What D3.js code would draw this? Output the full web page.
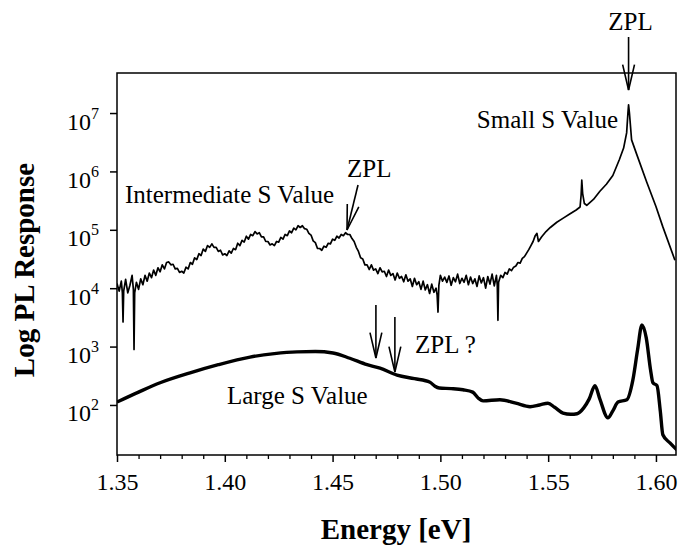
<!DOCTYPE html>
<html>
<head>
<meta charset="utf-8">
<script src="https://cdn.jsdelivr.net/npm/d3@7"></script>
<style>
  html, body { margin: 0; padding: 0; background: #fff; }
  svg { display: block; font-family: "Liberation Serif", "Times New Roman", serif; }
</style>
</head>
<body>
<svg id="chart" width="679" height="551"></svg>
<script>
// Energy axis (eV)
const energyTicks = [1.35, 1.40, 1.45, 1.50, 1.55, 1.60];
const energyMinorTicks = [1.36, 1.37, 1.38, 1.39, 1.41, 1.42, 1.43, 1.44, 1.46, 1.47, 1.48, 1.49,
                          1.51, 1.52, 1.53, 1.54, 1.56, 1.57, 1.58, 1.59];
// PL response axis (decades)
const responseTicks = [1e2, 1e3, 1e4, 1e5, 1e6, 1e7];

// Upper spectrum (intermediate + small S): [energy eV, log10 PL]
const upperSpectrum = [
  [1.350, 4.08], [1.351, 3.95], [1.352, 4.12], [1.3525, 3.92], [1.3528, 3.42], [1.3531, 3.95],
  [1.354, 4.15], [1.355, 3.92], [1.356, 4.05], [1.357, 4.22], [1.3576, 3.98], [1.3579, 2.95],
  [1.3582, 3.92], [1.359, 4.10], [1.360, 3.98], [1.361, 4.16], [1.362, 4.06], [1.363, 4.22],
  [1.364, 4.12], [1.365, 4.26], [1.366, 4.18], [1.367, 4.31], [1.368, 4.22], [1.369, 4.35],
  [1.370, 4.28], [1.371, 4.40], [1.372, 4.33], [1.373, 4.44], [1.374, 4.45], [1.375, 4.40],
  [1.376, 4.41], [1.377, 4.33], [1.378, 4.34], [1.379, 4.27], [1.380, 4.29], [1.381, 4.26],
  [1.382, 4.36], [1.383, 4.33], [1.384, 4.44], [1.385, 4.41], [1.386, 4.52], [1.387, 4.49],
  [1.388, 4.59], [1.389, 4.56], [1.390, 4.67], [1.391, 4.63], [1.392, 4.73], [1.393, 4.70],
  [1.394, 4.76], [1.395, 4.70], [1.396, 4.70], [1.397, 4.63], [1.398, 4.65], [1.399, 4.57],
  [1.400, 4.59], [1.401, 4.56], [1.402, 4.64], [1.403, 4.60], [1.404, 4.68], [1.405, 4.66],
  [1.406, 4.77], [1.407, 4.73], [1.408, 4.82], [1.409, 4.79], [1.410, 4.89], [1.411, 4.84],
  [1.412, 4.92], [1.413, 4.90], [1.414, 4.97], [1.415, 4.93], [1.416, 4.95], [1.417, 4.88],
  [1.418, 4.88], [1.419, 4.80], [1.420, 4.80], [1.421, 4.74], [1.422, 4.76], [1.423, 4.73],
  [1.424, 4.80], [1.425, 4.79], [1.426, 4.87], [1.427, 4.84], [1.428, 4.92], [1.429, 4.90],
  [1.430, 4.98], [1.431, 4.95], [1.432, 5.03], [1.433, 5.00], [1.434, 5.07], [1.435, 5.04],
  [1.436, 5.07], [1.437, 5.02], [1.438, 5.01], [1.439, 4.94], [1.440, 4.91], [1.441, 4.81],
  [1.442, 4.78], [1.443, 4.68], [1.444, 4.68], [1.445, 4.65], [1.446, 4.72], [1.447, 4.70],
  [1.448, 4.77], [1.449, 4.76], [1.450, 4.84], [1.451, 4.82], [1.452, 4.89], [1.453, 4.86],
  [1.454, 4.92], [1.455, 4.90], [1.456, 4.95], [1.457, 4.92], [1.458, 4.92], [1.459, 4.85],
  [1.460, 4.80], [1.461, 4.70], [1.462, 4.63], [1.463, 4.52], [1.464, 4.50], [1.465, 4.40],
  [1.466, 4.40], [1.467, 4.32], [1.468, 4.40], [1.469, 4.31], [1.470, 4.33], [1.471, 4.25],
  [1.472, 4.35], [1.473, 4.28], [1.474, 4.29], [1.475, 4.20], [1.476, 4.31], [1.477, 4.22],
  [1.478, 4.25], [1.479, 4.14], [1.480, 4.26], [1.481, 4.17], [1.482, 4.20], [1.483, 4.11],
  [1.484, 4.23], [1.485, 4.12], [1.486, 4.16], [1.487, 4.03], [1.488, 4.17], [1.489, 4.06],
  [1.490, 4.11], [1.491, 3.98], [1.492, 4.12], [1.493, 3.97], [1.494, 4.06], [1.495, 3.91],
  [1.496, 4.07], [1.497, 3.93], [1.498, 4.00], [1.4985, 3.88], [1.4989, 3.59], [1.4993, 4.05],
  [1.500, 4.22], [1.501, 4.12], [1.502, 4.19], [1.503, 4.10], [1.504, 4.21], [1.505, 4.05],
  [1.506, 4.18], [1.507, 4.11], [1.508, 4.24], [1.509, 4.08], [1.510, 4.17], [1.511, 4.10],
  [1.512, 4.22], [1.513, 4.06], [1.514, 4.19], [1.515, 4.08], [1.516, 4.16], [1.517, 4.03],
  [1.518, 4.21], [1.519, 4.09], [1.520, 4.18], [1.521, 4.00], [1.522, 4.20], [1.523, 4.07],
  [1.524, 4.24], [1.525, 4.04], [1.526, 4.22], [1.5264, 4.05], [1.5267, 3.45], [1.5270, 4.10],
  [1.528, 4.22], [1.529, 4.18], [1.530, 4.27], [1.531, 4.24], [1.532, 4.33], [1.533, 4.30],
  [1.534, 4.36], [1.535, 4.38], [1.536, 4.44], [1.537, 4.43], [1.538, 4.51], [1.539, 4.54],
  [1.540, 4.60], [1.541, 4.66], [1.542, 4.73], [1.543, 4.80], [1.544, 4.90], [1.5448, 4.94],
  [1.5455, 4.80], [1.547, 4.88], [1.549, 4.97], [1.551, 5.04], [1.554, 5.13], [1.557, 5.20],
  [1.560, 5.27], [1.563, 5.34], [1.5648, 5.39], [1.5653, 5.60], [1.5656, 5.85], [1.5660, 5.62],
  [1.5668, 5.45], [1.5679, 5.42], [1.571, 5.52], [1.574, 5.66], [1.577, 5.78], [1.580, 5.93],
  [1.583, 6.20], [1.585, 6.40], [1.5864, 6.66], [1.5870, 7.00], [1.5873, 7.14], [1.5877, 7.00],
  [1.5887, 6.54], [1.591, 6.30], [1.5957, 5.82], [1.600, 5.40], [1.6032, 5.05], [1.6088, 4.48]
];

// Lower spectrum (large S): [energy eV, log10 PL]
const lowerSpectrum = [
  [1.350, 2.05], [1.360, 2.22], [1.370, 2.38], [1.3839, 2.55], [1.397, 2.69], [1.4117, 2.82],
  [1.423, 2.88], [1.4335, 2.91], [1.442, 2.915], [1.4502, 2.89], [1.458, 2.80], [1.466, 2.69],
  [1.472, 2.63], [1.4799, 2.51], [1.488, 2.45], [1.4952, 2.39], [1.4975, 2.32], [1.4995, 2.29],
  [1.505, 2.28], [1.5105, 2.26], [1.5150, 2.22], [1.5175, 2.12], [1.5198, 2.07], [1.5276, 2.09],
  [1.535, 2.03], [1.5416, 1.97], [1.5460, 2.00], [1.5499, 2.03], [1.5530, 1.96], [1.5569, 1.86],
  [1.5605, 1.84], [1.5634, 1.85], [1.5665, 1.95], [1.5690, 2.10], [1.5717, 2.33], [1.5740, 2.10],
  [1.5777, 1.78], [1.5800, 1.90], [1.5824, 2.05], [1.5865, 2.09], [1.5893, 2.43], [1.5915, 2.95],
  [1.5935, 3.37], [1.5955, 3.15], [1.5975, 2.60], [1.5986, 2.38], [1.6005, 2.33], [1.6020, 1.90],
  [1.6032, 1.49], [1.6065, 1.35], [1.6097, 1.23]
];

// Zero-phonon line markers (eV)
const zplSmall = 1.5873;
const zplIntermediate = 1.4567;
const zplLarge = [1.4701, 1.4789];

const W = 679, H = 551;
const plot = { left: 117, right: 676, top: 73, bottom: 455 };
const serif = '"Liberation Serif", "Times New Roman", serif';

const x = d3.scaleLinear().domain([1.35, 1.6093]).range([plot.left, plot.right]);
const y = d3.scaleLog().domain([13.9, 4.85e7]).range([plot.bottom, plot.top]);

const svg = d3.select("#chart");
svg.append("rect").attr("width", W).attr("height", H).attr("fill", "#fff");

svg.append("clipPath").attr("id", "plot-clip")
  .append("rect")
  .attr("x", plot.left).attr("y", plot.top)
  .attr("width", plot.right - plot.left).attr("height", plot.bottom - plot.top);

// Bottom axis: major and minor ticks
const xAxis = svg.append("g")
  .attr("transform", `translate(0,${plot.bottom})`)
  .call(d3.axisBottom(x).tickValues(energyTicks).tickFormat(d3.format(".2f"))
    .tickSize(7).tickPadding(11).tickSizeOuter(0));
xAxis.select(".domain").remove();
xAxis.attr("font-family", serif).attr("font-size", 24);
xAxis.selectAll(".tick line").attr("stroke", "#000").attr("stroke-width", 1.5);
xAxis.selectAll(".tick text").attr("fill", "#000");

const xMinor = svg.append("g")
  .attr("transform", `translate(0,${plot.bottom})`)
  .call(d3.axisBottom(x).tickValues(energyMinorTicks).tickFormat("").tickSize(4).tickSizeOuter(0));
xMinor.select(".domain").remove();
xMinor.selectAll(".tick line").attr("stroke", "#000").attr("stroke-width", 1.3);

// Left axis with power-of-ten labels
const yAxis = svg.append("g")
  .attr("transform", `translate(${plot.left},0)`)
  .call(d3.axisLeft(y).tickValues(responseTicks).tickFormat("").tickSize(7).tickPadding(11).tickSizeOuter(0));
yAxis.select(".domain").remove();
yAxis.attr("font-family", serif).attr("font-size", 24);
yAxis.selectAll(".tick line").attr("stroke", "#000").attr("stroke-width", 1.5);
yAxis.selectAll(".tick text")
  .attr("fill", "#000")
  .attr("dy", null)
  .attr("y", 16)
  .each(function (d) {
    const t = d3.select(this);
    t.append("tspan").text("10");
    t.append("tspan").attr("dy", -11).attr("font-size", 16).text(Math.round(Math.log10(d)));
  });

// Plot frame
svg.append("rect")
  .attr("x", plot.left).attr("y", plot.top)
  .attr("width", plot.right - plot.left).attr("height", plot.bottom - plot.top)
  .attr("fill", "none").attr("stroke", "#000").attr("stroke-width", 1.5);

// Spectra
const lineUpper = d3.line().x(d => x(d[0])).y(d => y(Math.pow(10, d[1])));
const lineLower = d3.line().x(d => x(d[0])).y(d => y(Math.pow(10, d[1]))).curve(d3.curveMonotoneX);

const curves = svg.append("g").attr("clip-path", "url(#plot-clip)");
curves.append("path").datum(upperSpectrum)
  .attr("d", lineUpper)
  .attr("fill", "none").attr("stroke", "#000").attr("stroke-width", 1.7)
  .attr("stroke-linejoin", "round");
curves.append("path").datum(lowerSpectrum)
  .attr("d", lineLower)
  .attr("fill", "none").attr("stroke", "#000").attr("stroke-width", 3.4)
  .attr("stroke-linejoin", "round");

// Arrow: shaft from (x1,y1) to tip (x2,y2), open V head
function arrow(x1, y1, x2, y2) {
  const g = svg.append("g").attr("stroke", "#000").attr("stroke-width", 1.6).attr("fill", "none");
  g.append("line").attr("x1", x1).attr("y1", y1).attr("x2", x2).attr("y2", y2);
  const ang = Math.atan2(y2 - y1, x2 - x1);
  const len = 26, half = 0.23;
  const p1 = [x2 - len * Math.cos(ang - half), y2 - len * Math.sin(ang - half)];
  const p2 = [x2 - len * Math.cos(ang + half), y2 - len * Math.sin(ang + half)];
  g.append("path").attr("d", `M${p1[0]},${p1[1]}L${x2},${y2}L${p2[0]},${p2[1]}`);
}

arrow(x(zplSmall), 37, x(zplSmall), 90);
arrow(x(zplIntermediate) + 11, 185, x(zplIntermediate), 230);
arrow(x(zplLarge[0]), 305, x(zplLarge[0]), 358);
arrow(x(zplLarge[1]), 317, x(zplLarge[1]), 372);

// Annotations
function label(txt, px, py, anchor) {
  svg.append("text").attr("x", px).attr("y", py)
    .attr("font-family", serif).attr("font-size", 25).attr("fill", "#000")
    .attr("text-anchor", anchor || "start").text(txt);
}
label("ZPL", x(zplSmall) + 2, 30, "middle");
label("Small S Value", 618, 128, "end");
label("Intermediate S Value", 125, 203);
label("ZPL", 347, 177);
label("ZPL ?", 415, 353);
label("Large S Value", 227, 404);

// Axis titles
svg.append("text")
  .attr("transform", "translate(34,270) rotate(-90)")
  .attr("text-anchor", "middle")
  .attr("font-family", serif).attr("font-weight", "bold").attr("font-size", 29)
  .attr("fill", "#000")
  .text("Log PL Response");
svg.append("text")
  .attr("x", 396).attr("y", 539)
  .attr("text-anchor", "middle")
  .attr("font-family", serif).attr("font-weight", "bold").attr("font-size", 29)
  .attr("fill", "#000")
  .text("Energy [eV]");
</script>
</body>
</html>
